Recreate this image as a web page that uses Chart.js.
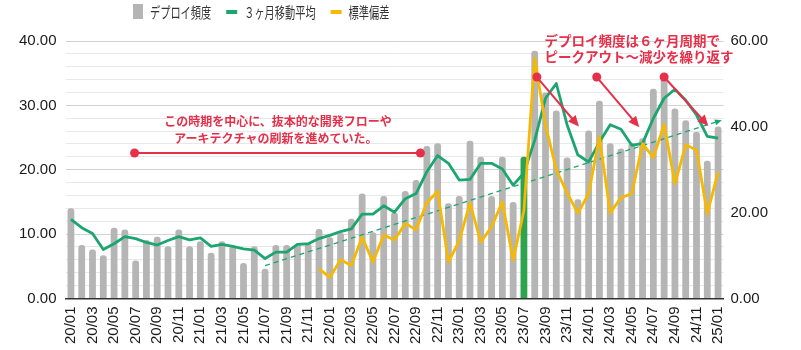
<!DOCTYPE html>
<html>
<head>
<meta charset="utf-8">
<script src="https://cdn.jsdelivr.net/npm/chart.js@4.4.1/dist/chart.umd.min.js"></script>
<style>
    html, body { margin: 0; padding: 0; background: #fff; }
</style>
</head>
<body>
<canvas id="DeployFreq" width="801" height="350"></canvas>
<script>
    var months = [
        '20/01', '20/02', '20/03', '20/04', '20/05', '20/06', '20/07', '20/08', '20/09', '20/10', '20/11', '20/12',
        '21/01', '21/02', '21/03', '21/04', '21/05', '21/06', '21/07', '21/08', '21/09', '21/10', '21/11', '21/12',
        '22/01', '22/02', '22/03', '22/04', '22/05', '22/06', '22/07', '22/08', '22/09', '22/10', '22/11', '22/12',
        '23/01', '23/02', '23/03', '23/04', '23/05', '23/06', '23/07', '23/08', '23/09', '23/10', '23/11', '23/12',
        '24/01', '24/02', '24/03', '24/04', '24/05', '24/06', '24/07', '24/08', '24/09', '24/10', '24/11', '24/12',
        '25/01'
    ];
    var deployCount = [
        14.0, 8.3, 7.6, 6.7, 11.0, 10.7, 5.9, 9.1, 9.6, 8.1, 10.7, 8.1,
        8.9, 7.1, 8.9, 8.1, 5.5, 8.1, 4.6, 8.3, 8.3, 8.5, 8.5, 10.8,
        9.5, 10.2, 12.4, 16.3, 10.3, 15.9, 13.4, 16.7, 18.4, 23.7, 24.1, 14.8,
        15.9, 24.5, 22.0, 15.9, 22.0, 15.0, 22.0, 38.5, 32.0, 29.2, 21.9, 15.4,
        26.1, 30.7, 24.1, 23.3, 24.2, 24.9, 32.6, 34.2, 29.5, 27.7, 25.9, 21.4,
        26.7
    ];
    var movingAvg = [
        12.3, 11.0, 10.1, 7.6, 8.5, 9.6, 9.3, 8.7, 8.3, 9.0, 9.6, 9.1,
        9.4, 8.1, 8.4, 8.1, 7.7, 7.5, 6.2, 7.2, 7.2, 8.4, 8.5, 9.3,
        9.8, 10.4, 10.8, 13.1, 13.1, 14.4, 13.4, 15.5, 16.3, 19.7, 22.2, 21.0,
        18.4, 18.5, 21.0, 21.0, 20.1, 17.6, 19.5, 24.6, 31.1, 33.4, 27.0, 22.3,
        21.2, 24.3, 27.0, 26.3, 23.8, 24.1, 28.0, 31.1, 32.5, 30.8, 28.5, 25.2,
        24.9
    ];
    var stdDev = [
        null, null, null, null, null, null, null, null, null, null, null, null,
        null, null, null, null, null, null, null, null, null, null, null, 6.9,
        4.9, 9.0, 7.7, 14.3, 8.5, 14.8, 13.6, 17.5, 16.0, 22.3, 25.0, 8.5,
        13.4, 22.3, 13.1, 16.7, 22.5, 8.9, 20.5, 56.0, 40.5, 30.0, 24.6, 19.9,
        24.4, 37.7, 19.9, 23.5, 24.4, 36.1, 32.8, 40.6, 26.7, 35.8, 34.6, 19.7,
        29.5
    ];
    var trendMonths = ['21/07', '25/01'];
    var trendValues = [5.1, 27.5];
    var highlightMonth = '23/07';

    var leftTickLabels = [0, 10, 20, 30, 40];
    var rightTickLabels = [0, 20, 40, 60];

    var noteText1 = ['この時期を中心に、抜本的な開発フローや', 'アーキテクチャの刷新を進めていた。'];
    var noteText2 = ['デプロイ頻度は６ヶ月周期で', 'ピークアウト〜減少を繰り返す'];
    // annotation anchors in data units: [month index, left-axis value]
    var note1Pos = [[19.2, 27.5], [19.0, 24.9]];
    var note2Pos = [[43.9, 40.0], [43.9, 37.6]];
    var periodLine = [5.9, 32.4, 22.6];
    var cycleArrows = [
        [43.2, 34.4, 47.1, 26.7],
        [48.75, 34.4, 52.7, 26.6],
        [55.0, 34.4, 59.1, 26.8]
    ];

    var GREY = '#b5b5b5', BAR_GREEN = '#2ea44f', LINE_GREEN = '#1ca66f', ORANGE = '#f6b800', RED = '#e5304a';
    var TICK_FONT = '"Liberation Sans", Arial, sans-serif';
    var JP_FONT = '"Noto Sans CJK JP", sans-serif';

    function arrowHead(ctx, x1, y1, x2, y2, len, wid) {
        var a = Math.atan2(y2 - y1, x2 - x1);
        ctx.beginPath();
        ctx.moveTo(x2, y2);
        ctx.lineTo(x2 - len * Math.cos(a) + wid / 2 * Math.sin(a), y2 - len * Math.sin(a) - wid / 2 * Math.cos(a));
        ctx.lineTo(x2 - len * Math.cos(a) - wid / 2 * Math.sin(a), y2 - len * Math.sin(a) + wid / 2 * Math.cos(a));
        ctx.closePath();
        ctx.fill();
    }

    var notesPlugin = {
        id: 'notes',
        afterDatasetsDraw: function (chart) {
            var ctx = chart.ctx, xs = chart.scales.x, ys = chart.scales.y;
            ctx.save();

            // trend arrow head
            var tmeta = chart.getDatasetMeta(3);
            var pts = tmeta.data.filter(function (p) { return !p.skip; });
            if (pts.length > 1) {
                var p1 = pts[pts.length - 2], p2 = pts[pts.length - 1];
                ctx.fillStyle = LINE_GREEN;
                var a = Math.atan2(p2.y - p1.y, p2.x - p1.x);
                arrowHead(ctx, p1.x, p1.y, p2.x + Math.cos(a) * 4, p2.y + Math.sin(a) * 4, 7, 6);
            }

            ctx.strokeStyle = RED;
            ctx.fillStyle = RED;
            ctx.lineWidth = 2;

            // period line with dots
            var lx1 = xs.getPixelForValue(periodLine[0]), lx2 = xs.getPixelForValue(periodLine[1]);
            var ly = ys.getPixelForValue(periodLine[2]);
            ctx.beginPath();
            ctx.moveTo(lx1, ly);
            ctx.lineTo(lx2, ly);
            ctx.stroke();
            [lx1, lx2].forEach(function (x) {
                ctx.beginPath();
                ctx.arc(x, ly, 4.5, 0, Math.PI * 2);
                ctx.fill();
            });

            // cycle arrows
            cycleArrows.forEach(function (c) {
                var x1 = xs.getPixelForValue(c[0]), y1 = ys.getPixelForValue(c[1]);
                var x2 = xs.getPixelForValue(c[2]), y2 = ys.getPixelForValue(c[3]);
                var a = Math.atan2(y2 - y1, x2 - x1);
                ctx.beginPath();
                ctx.moveTo(x1, y1);
                ctx.lineTo(x2 - Math.cos(a) * 8, y2 - Math.sin(a) * 8);
                ctx.stroke();
                arrowHead(ctx, x1, y1, x2, y2, 11, 10);
                ctx.beginPath();
                ctx.arc(x1, y1, 4.5, 0, Math.PI * 2);
                ctx.fill();
            });

            // texts
            ctx.textBaseline = 'middle';
            ctx.font = 'bold 12px ' + JP_FONT;
            ctx.textAlign = 'center';
            noteText1.forEach(function (t, i) {
                ctx.fillText(t, xs.getPixelForValue(note1Pos[i][0]), ys.getPixelForValue(note1Pos[i][1]));
            });
            ctx.font = 'bold 13.5px ' + JP_FONT;
            ctx.textAlign = 'left';
            noteText2.forEach(function (t, i) {
                ctx.fillText(t, xs.getPixelForValue(note2Pos[i][0]), ys.getPixelForValue(note2Pos[i][1]));
            });
            ctx.restore();
        },
        afterDraw: function (chart) {
            // legend, narrow type like the original
            var ctx = chart.ctx;
            var items = [
                { text: chart.data.datasets[0].label, color: GREY, bar: true },
                { text: chart.data.datasets[1].label, color: LINE_GREEN },
                { text: chart.data.datasets[2].label, color: ORANGE }
            ];
            var x = 133, sx = 0.68;
            ctx.save();
            ctx.font = '15px ' + JP_FONT;
            ctx.textBaseline = 'middle';
            ctx.textAlign = 'left';
            items.forEach(function (it) {
                ctx.fillStyle = it.color;
                if (it.bar) {
                    ctx.fillRect(x, 4, 10, 15);
                    x += 10;
                } else {
                    ctx.fillRect(x, 10, 11, 4);
                    x += 11;
                }
                x += 7;
                ctx.fillStyle = '#333';
                ctx.save();
                ctx.translate(x, 12);
                ctx.scale(sx, 1);
                ctx.fillText(it.text, 0, 0);
                ctx.restore();
                x += ctx.measureText(it.text).width * sx + 15;
            });
            ctx.restore();
        }
    };

    new Chart(document.getElementById('DeployFreq'), {
        data: {
            labels: months,
            datasets: [
                {
                    type: 'bar',
                    label: 'デプロイ頻度',
                    data: deployCount,
                    backgroundColor: months.map(function (m) { return m === highlightMonth ? BAR_GREEN : GREY; }),
                    borderRadius: { topLeft: 3, topRight: 3 },
                    borderSkipped: 'bottom',
                    barPercentage: 0.7,
                    categoryPercentage: 0.9,
                    yAxisID: 'y',
                    order: 4
                },
                {
                    type: 'line',
                    label: '３ヶ月移動平均',
                    data: movingAvg,
                    borderColor: LINE_GREEN,
                    borderWidth: 2.8,
                    borderJoinStyle: 'round',
                    pointRadius: 0,
                    yAxisID: 'y',
                    order: 2
                },
                {
                    type: 'line',
                    label: '標準偏差',
                    data: stdDev,
                    borderColor: ORANGE,
                    borderWidth: 2.8,
                    borderJoinStyle: 'round',
                    pointRadius: 0,
                    yAxisID: 'y2',
                    order: 1
                },
                {
                    type: 'line',
                    label: 'trend',
                    data: trendMonths.map(function (m, i) { return { x: m, y: trendValues[i] }; }),
                    borderColor: LINE_GREEN,
                    borderWidth: 1.3,
                    borderDash: [5, 4],
                    pointRadius: 0,
                    yAxisID: 'y',
                    order: 3
                }
            ]
        },
        options: {
            responsive: false,
            animation: false,
            devicePixelRatio: 1,
            layout: { padding: { top: 41, left: 10, right: 26, bottom: -2 } },
            plugins: {
                legend: { display: false },
                tooltip: { enabled: false }
            },
            scales: {
                x: {
                    offset: true,
                    grid: { display: false, drawTicks: false },
                    border: { display: true, color: '#333', width: 1.5, dash: [4, 3] },
                    ticks: {
                        autoSkip: false,
                        minRotation: 90,
                        maxRotation: 90,
                        padding: 8,
                        color: '#1a1a1a',
                        font: { family: TICK_FONT, size: 15 },
                        callback: function (v, i) { return i % 2 === 0 ? this.getLabelForValue(v) : ''; }
                    }
                },
                y: {
                    position: 'left',
                    min: 0,
                    max: 40,
                    grid: {
                        drawTicks: false,
                        color: function (c) {
                            if (c.tick.value === 0) return 'rgba(0,0,0,0)';
                            return c.tick.value % 10 === 0 ? '#d2d2d2' : '#e8e8e8';
                        }
                    },
                    border: { display: false },
                    ticks: {
                        stepSize: 2,
                        autoSkip: false,
                        padding: 9,
                        color: '#1a1a1a',
                        font: { family: TICK_FONT, size: 15 },
                        callback: function (v) { return leftTickLabels.indexOf(v) >= 0 ? v.toFixed(2) : ''; }
                    }
                },
                y2: {
                    position: 'right',
                    min: 0,
                    max: 60,
                    grid: { drawOnChartArea: false, drawTicks: false },
                    border: { display: false },
                    ticks: {
                        stepSize: 20,
                        padding: 7,
                        color: '#1a1a1a',
                        font: { family: TICK_FONT, size: 15 },
                        callback: function (v) { return rightTickLabels.indexOf(v) >= 0 ? v.toFixed(2) : ''; }
                    }
                }
            }
        },
        plugins: [notesPlugin]
    });
</script>
</body>
</html>
